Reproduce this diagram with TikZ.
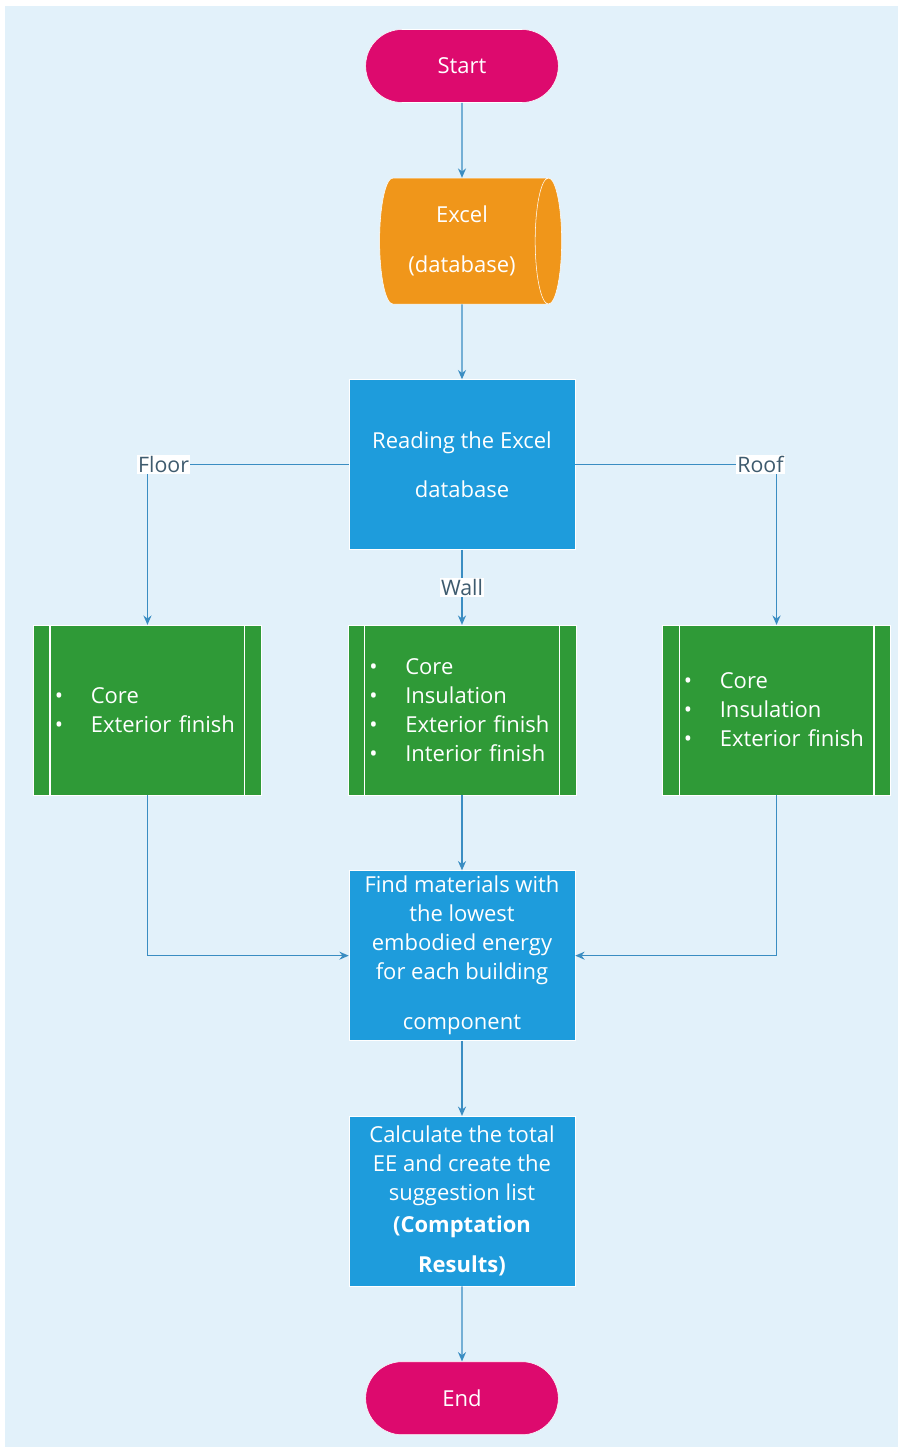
\documentclass[tikz,border=0pt]{standalone}
\usepackage{fontspec}
\setmainfont{Open Sans}
\usetikzlibrary{arrows.meta,positioning,shapes.geometric,shapes.misc}
\definecolor{clTerm}{HTML}{DD0A6E}
\definecolor{clData}{HTML}{F0961A}
\definecolor{clProc}{HTML}{1E9CDC}
\definecolor{clLayer}{HTML}{2F9A37}
\definecolor{clBack}{HTML}{E2F1FA}
\definecolor{clFlow}{HTML}{3A8DC2}
\definecolor{clLabel}{HTML}{3E5B6E}
\newcommand{\layer}[1]{\makebox[27pt][l]{\textbullet}#1}
\tikzset{
  txt/.style={font=\fontsize{16.5}{21.75}\selectfont, text=white, align=center, inner sep=2pt},
  terminal/.style={rounded rectangle, txt, fill=clTerm, draw=white, thin,
                   minimum width=148.5pt, minimum height=54.75pt},
  database/.style={cylinder, shape border rotate=0, aspect=0.35, txt, fill=clData,
                   draw=white, thin, minimum width=94.5pt, minimum height=136.5pt},
  process/.style={rectangle, txt, fill=clProc, draw=white, thin,
                  minimum width=169.5pt, minimum height=127.5pt},
  layerbox/.style={rectangle, txt, align=left, fill=clLayer, draw=white, thin,
                   minimum width=171pt, minimum height=127.5pt, inner xsep=16pt, text width=139pt,
                   path picture={
                     \draw[white, line width=1pt]
                       ([xshift=12.5pt]path picture bounding box.south west) -- ([xshift=12.5pt]path picture bounding box.north west)
                       ([xshift=-12.5pt]path picture bounding box.south east) -- ([xshift=-12.5pt]path picture bounding box.north east);
                   }},
  flow/.style={-{Stealth[length=7pt,width=6pt]}, line width=1.1pt, draw=clFlow},
  flowlabel/.style={font=\fontsize{16}{18}\selectfont, text=clLabel, fill=white, inner sep=1pt},
}
\begin{document}
\begin{tikzpicture}[node distance=56.25pt and 64.5pt]
  \useasboundingbox (-346.5pt,49.5pt) rectangle (330.75pt,-1040.25pt);
  \fill[clBack] (-342.75pt,45pt) rectangle (327pt,-1035.75pt);

  \node[terminal] (start) at (0,0) {Start};
  \node[database, below=of start] (excel) {Excel\\[15.75pt](database)};
  \node[process, below=of excel] (read) {Reading the Excel\\[15pt]database};
  \node[layerbox, below=of read] (wall) {\layer{Core}\\\layer{Insulation}\\\layer{Exterior finish}\\\layer{Interior finish}};
  \node[layerbox, left=of wall] (floor) {\layer{Core}\\\layer{Exterior finish}};
  \node[layerbox, right=of wall] (roof) {\layer{Core}\\\layer{Insulation}\\\layer{Exterior finish}};
  \node[process, below=of wall] (find) {Find materials with\\the lowest\\embodied energy\\for each building\\[15.75pt]component};
  \node[process, below=of find] (calc) {Calculate the total\\EE and create the\\suggestion list\\[2.25pt]\textbf{(Comptation}\\[8.25pt]\textbf{Results)}};
  \node[terminal, below=of calc] (stop) {End};

  \draw[flow] (start) -- (excel);
  \draw[flow] (excel) -- (read);
  \draw[flow] (read.west) -| node[flowlabel, pos=0.46] {Floor} (floor);
  \draw[flow] (read) -- node[flowlabel] {Wall} (wall);
  \draw[flow] (read.east) -| node[flowlabel, pos=0.46] {Roof} (roof);
  \draw[flow] (floor) |- (find);
  \draw[flow] (wall) -- (find);
  \draw[flow] (roof) |- (find);
  \draw[flow] (find) -- (calc);
  \draw[flow] (calc) -- (stop);
\end{tikzpicture}
\end{document}
